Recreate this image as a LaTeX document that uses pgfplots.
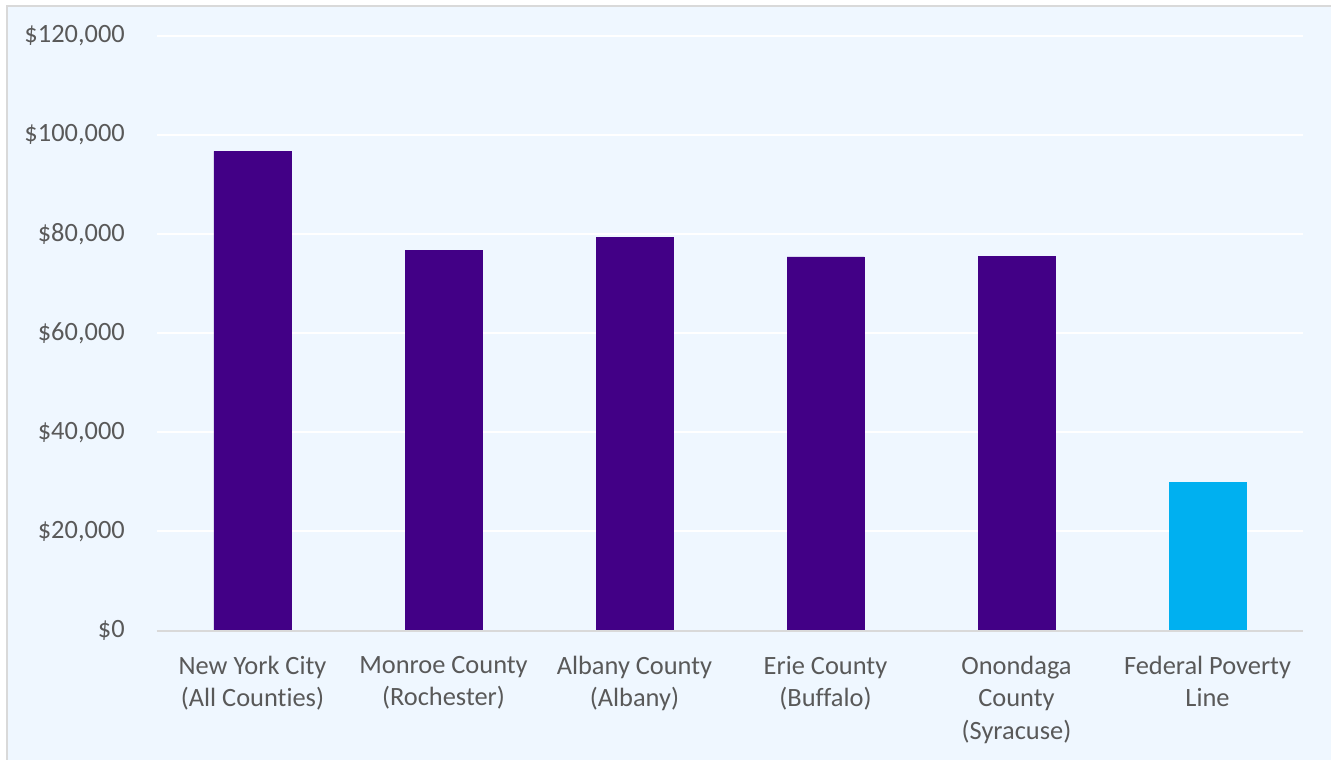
\documentclass[border=0pt]{standalone}
\usepackage{pgfplots}
\pgfplotsset{compat=1.18}
\usepackage{fontspec}
\setmainfont{Carlito}[Ligatures=NoCommon]
\definecolor{bgc}{HTML}{EFF7FF}
\definecolor{bordc}{HTML}{D9D9D9}
\definecolor{txtc}{HTML}{595959}
\definecolor{purp}{HTML}{420086}
\definecolor{lblue}{HTML}{00B0F0}
\begin{document}
\begin{tikzpicture}
\path[use as bounding box, fill=white] (-117.75bp,-97.1bp) rectangle (880.5bp,472.9bp);
\fill[bgc] (-112.5bp,-97.1bp) rectangle (880.5bp,468.4bp);
\draw[bordc, line width=1.5bp] (-112.5bp,-97.1bp) -- (-112.5bp,468.4bp) -- (880.5bp,468.4bp);
\begin{axis}[
  scale only axis,
  width=859.5bp, height=445.9bp,
  xmin=-0.5, xmax=5.5,
  ymin=0, ymax=120000,
  ytick={0,20000,40000,60000,80000,100000,120000},
  xtick={0,1,2,3,4,5},
  xticklabels={{New York City\\(All Counties)},{Monroe County\\(Rochester)},{Albany County\\(Albany)},{Erie County\\(Buffalo)},{Onondaga\\County\\(Syracuse)},{Federal Poverty\\Line}},
  scaled y ticks=false,
  yticklabel={\$\pgfmathprintnumber{\tick}},
  /pgf/number format/.cd, fixed, 1000 sep={,}, assume math mode=true,
  /pgfplots/.cd,
  axis line style={draw=none},
  tick style={draw=none},
  ymajorgrids,
  grid style={white, line width=1.5bp},
  ticklabel style={font=\fontsize{19.8bp}{24.2bp}\selectfont, text=txtc},
  xticklabel style={align=center, anchor=north, inner sep=0pt, yshift=-14.8bp},
  yticklabel style={anchor=east, inner sep=0pt, xshift=-24bp},
  ybar, bar width=57.75bp,
  clip=false,
]
\addplot[fill=purp, draw=purp, bar shift=0pt] coordinates {(0,96700) (1,76700) (2,79300) (3,75400) (4,75500)};
\addplot[fill=lblue, draw=lblue, bar shift=0pt] coordinates {(5,30000)};
\draw[bordc, line width=1.5bp] (axis cs:-0.5,0) -- (axis cs:5.5,0);
\end{axis}
\end{tikzpicture}
\end{document}
